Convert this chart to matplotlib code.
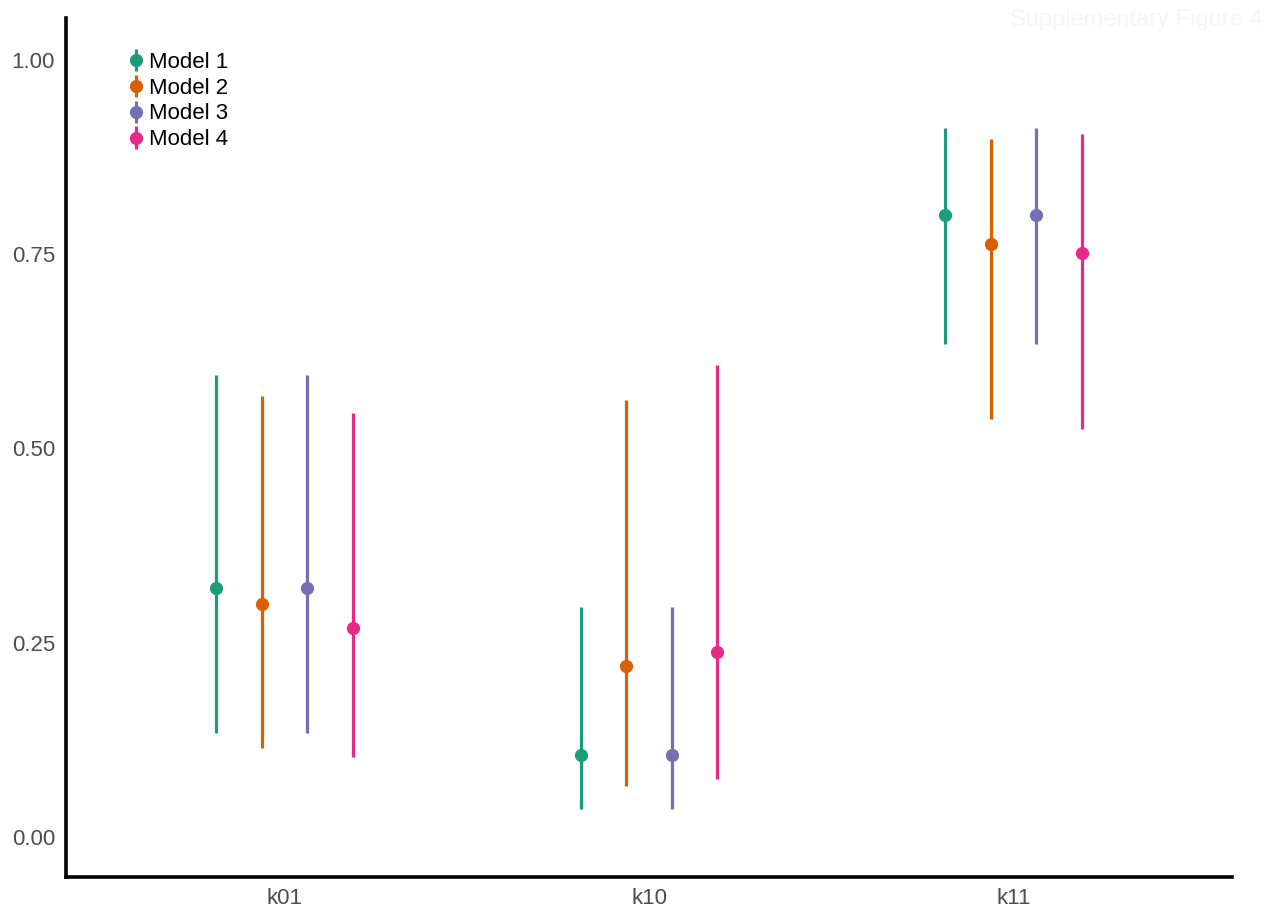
import numpy as np
import matplotlib.pyplot as plt

# values
categories = ['k01', 'k10', 'k11']
models = ['Model 1', 'Model 2', 'Model 3', 'Model 4']
colors = ['#1B9E77', '#D95F02', '#7570B3', '#E7298A']

est = {
    'Model 1': [0.320, 0.106, 0.801],
    'Model 2': [0.300, 0.220, 0.763],
    'Model 3': [0.320, 0.106, 0.801],
    'Model 4': [0.269, 0.238, 0.752],
}
lower = {
    'Model 1': [0.134, 0.036, 0.634],
    'Model 2': [0.115, 0.065, 0.538],
    'Model 3': [0.134, 0.036, 0.634],
    'Model 4': [0.103, 0.074, 0.525],
}
upper = {
    'Model 1': [0.595, 0.296, 0.913],
    'Model 2': [0.567, 0.563, 0.898],
    'Model 3': [0.595, 0.296, 0.913],
    'Model 4': [0.546, 0.607, 0.905],
}

plt.rcParams['font.family'] = ['Liberation Sans', 'DejaVu Sans']

fig = plt.figure(figsize=(12.8, 9.22), dpi=100)
ax = fig.add_axes([0.0516, 0.0488, 0.9109, 0.9317])

x = np.arange(1, len(categories) + 1)
dodge = 0.5
for i, m in enumerate(models):
    off = -dodge / 2 + dodge / len(models) * (i + 0.5)
    y = np.array(est[m])
    yerr = [y - np.array(lower[m]), np.array(upper[m]) - y]
    ax.errorbar(x + off, y, yerr=yerr, fmt='o', color=colors[i],
                ms=8.5, elinewidth=2.3, capsize=0, label=m)

ax.set_xlim(0.4, 3.6)
ax.set_ylim(-0.0515, 1.054)
ax.set_xticks(x)
ax.set_xticklabels(categories)
ax.set_yticks([0, 0.25, 0.5, 0.75, 1.0])
ax.set_yticklabels(['0.00', '0.25', '0.50', '0.75', '1.00'])
ax.tick_params(length=0, labelsize=16, labelcolor='#4D4D4D', pad=8)

for s in ['top', 'right']:
    ax.spines[s].set_visible(False)
for s in ['left', 'bottom']:
    ax.spines[s].set_linewidth(2.6)
    ax.spines[s].set_color('black')

leg = ax.legend(loc='upper left', bbox_to_anchor=(0.101, 0.944),
                bbox_transform=fig.transFigure, frameon=False,
                fontsize=16, handlelength=0.6, handletextpad=0.3,
                labelspacing=0.22, borderaxespad=0, borderpad=0)

fig.text(0.986, 0.99, 'Supplementary Figure 4', ha='right', va='top',
         fontsize=17, color='#F6F6F6')

fig.savefig('out.png', dpi=100, facecolor='white')
